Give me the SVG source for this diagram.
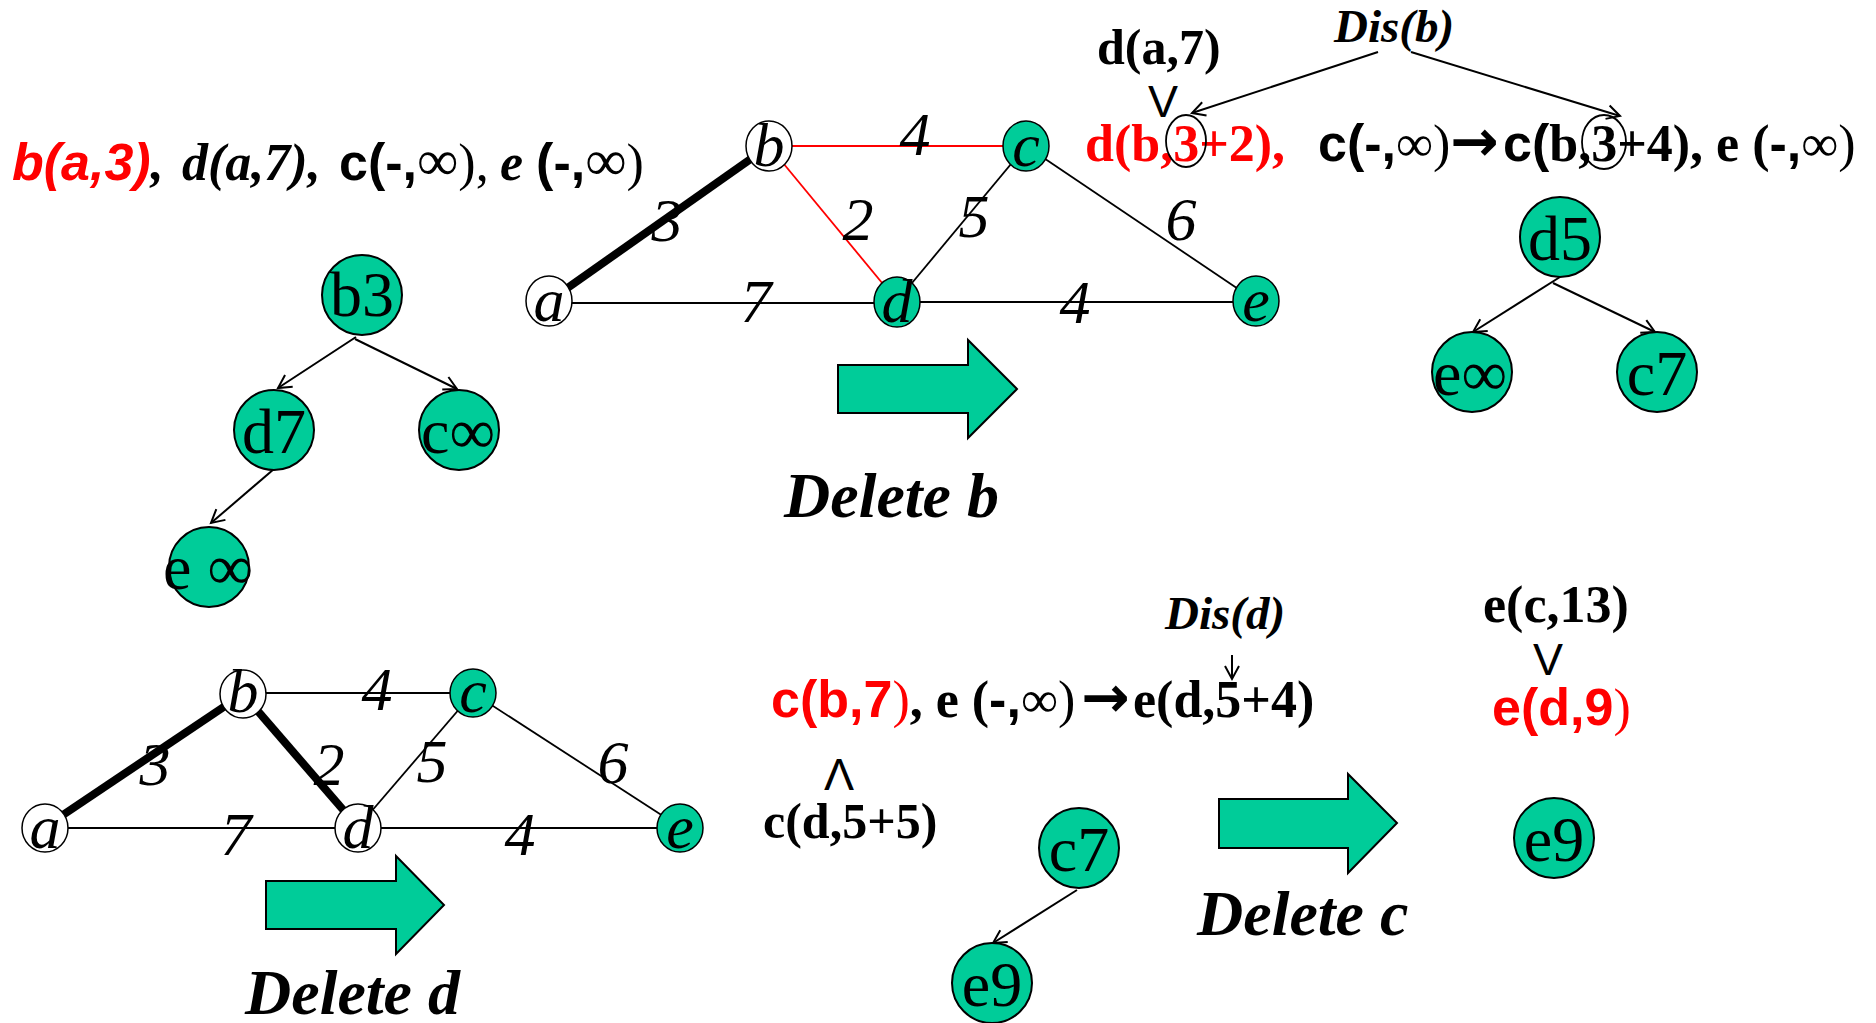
<svg xmlns="http://www.w3.org/2000/svg" width="1876" height="1023" viewBox="0 0 1876 1023">
<style>
.bg{fill:#fff}
.ng{fill:#00CC99;stroke:#000;stroke-width:1.5}
.nw{fill:#fff;stroke:#000;stroke-width:1.5}
.e{stroke:#000;stroke-width:1.8;fill:none}
.thick{stroke:#000;stroke-width:8}
.red{stroke:#f00;stroke-width:1.8}
.nl{font-family:"Liberation Serif","Times New Roman",serif;font-style:italic;font-size:62px;text-anchor:middle}
.lbl{font-family:"Liberation Serif","Times New Roman",serif;font-style:italic;font-size:62px;text-anchor:middle}
.tc{fill:#00CC99;stroke:#000;stroke-width:2}
.tt{font-family:"Liberation Serif","Times New Roman",serif;font-size:64px;text-anchor:middle}
.arr{stroke:#000;stroke-width:2;fill:none}
.blk{fill:#00CC99;stroke:#000;stroke-width:2}
.del{font-family:"Liberation Serif","Times New Roman",serif;font-style:italic;font-weight:bold;font-size:64px}
.s{font-family:"Liberation Sans",Arial,sans-serif;font-weight:bold}
.sr{font-family:"Liberation Sans",Arial,sans-serif;font-weight:normal}
.t{font-family:"Liberation Serif","Times New Roman",serif}
.tb{font-family:"Liberation Serif","Times New Roman",serif;font-weight:bold}
.ar{font-family:"DejaVu Sans",sans-serif;font-weight:bold}
.i{font-style:italic}
.rd{fill:#f00}
.ring{fill:none;stroke:#000;stroke-width:1.8}
</style>
<defs>
<marker id="oa" viewBox="-16 -10 20 20" refX="0" refY="0" markerWidth="20" markerHeight="20" markerUnits="userSpaceOnUse" orient="auto">
<path d="M-13,-7 L0,0 L-13,7" fill="none" stroke="#000" stroke-width="2"/>
</marker>
</defs>
<rect class="bg" x="0" y="0" width="1876" height="1023"/>

<!-- top-left list -->
<g id="list1" font-size="52">
<text y="180"><tspan x="12" class="s i rd">b(a,3)</tspan><tspan class="tb i">, </tspan><tspan x="182" class="tb i">d(a,7), </tspan><tspan x="339" class="s">c(-,</tspan><tspan class="t" font-size="58">∞</tspan><tspan class="t">), </tspan><tspan x="500" class="tb i">e </tspan><tspan class="s">(-,</tspan><tspan class="t" font-size="58">∞</tspan><tspan class="t">)</tspan></text>
</g>

<!-- connectors -->
<g id="connectors">
<!-- graph 1 -->
<line class="thick" x1="549" y1="301" x2="769" y2="146"/>
<line class="red" x1="769" y1="146" x2="1026" y2="146"/>
<line class="red" x1="769" y1="146" x2="897" y2="301"/>
<line class="e" x1="1026" y1="146" x2="897" y2="301"/>
<line class="e" x1="1026" y1="146" x2="1256" y2="301"/>
<line class="e" x1="549" y1="303" x2="897" y2="303"/>
<line class="e" x1="897" y1="302" x2="1256" y2="302"/>
<!-- graph 2 -->
<line class="thick" x1="45" y1="827" x2="243" y2="694"/>
<line class="thick" x1="243" y1="694" x2="358" y2="827"/>
<line class="e" x1="243" y1="693" x2="473" y2="693"/>
<line class="e" x1="473" y1="693" x2="358" y2="827"/>
<line class="e" x1="473" y1="693" x2="680" y2="827"/>
<line class="e" x1="45" y1="828" x2="358" y2="828"/>
<line class="e" x1="358" y1="828" x2="680" y2="828"/>
<!-- tree 1 -->
<line class="arr" x1="356" y1="337" x2="278" y2="388" marker-end="url(#oa)"/>
<line class="arr" x1="355" y1="339" x2="457" y2="389" marker-end="url(#oa)"/>
<line class="arr" x1="274" y1="469" x2="211" y2="523" marker-end="url(#oa)"/>
<!-- tree 2 -->
<line class="arr" x1="1560" y1="277" x2="1473" y2="332" marker-end="url(#oa)"/>
<line class="arr" x1="1553" y1="283" x2="1655" y2="332" marker-end="url(#oa)"/>
<!-- tree 3 -->
<line class="arr" x1="1077" y1="890" x2="993" y2="943" marker-end="url(#oa)"/>
<!-- Dis arrows -->
<line class="arr" x1="1378" y1="52" x2="1192" y2="113" marker-end="url(#oa)"/>
<line class="arr" x1="1411" y1="52" x2="1620" y2="116" marker-end="url(#oa)"/>
<line class="arr" x1="1232" y1="655" x2="1232" y2="679" marker-end="url(#oa)"/>
</g>

<!-- graph 1 nodes -->
<g id="g1-a"><ellipse class="nw" cx="549" cy="301" rx="23" ry="25"/><text class="nl" x="549" y="321">a</text></g>
<g id="g1-b"><ellipse class="nw" cx="769" cy="146" rx="23" ry="25"/><text class="nl" x="769" y="166">b</text></g>
<g id="g1-c"><ellipse class="ng" cx="1026" cy="146" rx="23" ry="25"/><text class="nl" x="1026" y="166">c</text></g>
<g id="g1-d"><ellipse class="ng" cx="897" cy="302" rx="23" ry="25"/><text class="nl" x="897" y="322">d</text></g>
<g id="g1-e"><ellipse class="ng" cx="1256" cy="301" rx="23" ry="25"/><text class="nl" x="1256" y="321">e</text></g>
<g id="g1-labels">
<text class="lbl" x="915" y="155">4</text>
<text class="lbl" x="667" y="241">3</text>
<text class="lbl" x="858" y="240">2</text>
<text class="lbl" x="974" y="237">5</text>
<text class="lbl" x="1181" y="240">6</text>
<text class="lbl" x="756" y="322">7</text>
<text class="lbl" x="1075" y="323">4</text>
</g>

<!-- graph 2 nodes -->
<g id="g2-a"><ellipse class="nw" cx="45" cy="828" rx="23" ry="24"/><text class="nl" x="45" y="848">a</text></g>
<g id="g2-b"><ellipse class="nw" cx="243" cy="694" rx="23" ry="24"/><text class="nl" x="243" y="712">b</text></g>
<g id="g2-c"><ellipse class="ng" cx="473" cy="693" rx="23" ry="24"/><text class="nl" x="473" y="712">c</text></g>
<g id="g2-d"><ellipse class="nw" cx="358" cy="828" rx="23" ry="24"/><text class="nl" x="358" y="848">d</text></g>
<g id="g2-e"><ellipse class="ng" cx="680" cy="828" rx="23" ry="24"/><text class="nl" x="680" y="848">e</text></g>
<g id="g2-labels">
<text class="lbl" x="377" y="710">4</text>
<text class="lbl" x="155" y="785">3</text>
<text class="lbl" x="329" y="785">2</text>
<text class="lbl" x="432" y="782">5</text>
<text class="lbl" x="613" y="783">6</text>
<text class="lbl" x="236" y="855">7</text>
<text class="lbl" x="520" y="855">4</text>
</g>

<!-- tree 1 -->
<g id="t1-b3"><circle class="tc" cx="362" cy="295" r="40"/><text class="tt" x="362" y="316">b3</text></g>
<g id="t1-d7"><circle class="tc" cx="274" cy="430" r="40"/><text class="tt" x="274" y="453">d7</text></g>
<g id="t1-cinf"><circle class="tc" cx="459" cy="430" r="40"/><text class="tt" x="458" y="453">c∞</text></g>
<g id="t1-einf"><circle class="tc" cx="209" cy="567" r="40"/><text class="tt" x="208" y="589">e ∞</text></g>

<!-- tree 2 -->
<g id="t2-d5"><circle class="tc" cx="1560" cy="237" r="40"/><text class="tt" x="1560" y="260">d5</text></g>
<g id="t2-einf"><circle class="tc" cx="1472" cy="372" r="40"/><text class="tt" x="1470" y="395">e∞</text></g>
<g id="t2-c7"><circle class="tc" cx="1657" cy="372" r="40"/><text class="tt" x="1657" y="395">c7</text></g>

<!-- tree 3 -->
<g id="t3-c7"><circle class="tc" cx="1079" cy="848" r="40"/><text class="tt" x="1079" y="871">c7</text></g>
<g id="t3-e9"><circle class="tc" cx="992" cy="983" r="40"/><text class="tt" x="992" y="1006">e9</text></g>
<g id="t4-e9"><circle class="tc" cx="1554" cy="838" r="40"/><text class="tt" x="1554" y="861">e9</text></g>

<!-- block arrows -->
<g id="arrow-b"><path class="blk" d="M838,365 H968 V340 L1017,389 L968,438 V413 H838 Z"/><text class="del" x="784" y="517">Delete b</text></g>
<g id="arrow-d"><path class="blk" d="M266,881 H396 V856 L444,905 L396,954 V929 H266 Z"/><text class="del" x="245" y="1014">Delete d</text></g>
<g id="arrow-c"><path class="blk" d="M1219,799 H1348 V774 L1397,823 L1348,873 V848 H1219 Z"/><text class="del" x="1197" y="935">Delete c</text></g>

<!-- top right texts -->
<g id="step1" font-size="52">
<text class="tb i" x="1334" y="42" font-size="47">Dis(b)</text>
<text class="tb" x="1097" y="64" font-size="50">d(a,7)</text>
<text class="sr" x="1163" y="117" font-size="45" text-anchor="middle">V</text>
<text x="1085" y="161" class="tb rd">d(b,3+2),</text>
<ellipse class="ring" cx="1186" cy="141" rx="20" ry="26"/>
<text y="161"><tspan x="1318" class="s">c(-,</tspan><tspan class="t">∞)</tspan><tspan x="1450" class="ar" font-size="58">→</tspan><tspan x="1503" class="s">c(</tspan><tspan class="tb">b,3+4), e (</tspan><tspan class="s">-,</tspan><tspan class="t">∞)</tspan></text>
<ellipse class="ring" cx="1604" cy="142" rx="22" ry="27"/>
</g>

<!-- bottom texts -->
<g id="step2" font-size="52">
<text class="tb i" x="1165" y="629" font-size="47">Dis(d)</text>
<text y="717"><tspan x="771" class="s rd">c(b,7</tspan><tspan class="t rd">)</tspan><tspan class="tb">, e (</tspan><tspan class="s">-,</tspan><tspan class="t">∞)</tspan><tspan x="1081" class="ar" font-size="58">→</tspan><tspan x="1133" class="tb">e(d,5+4)</tspan></text>
<text class="sr" x="839" y="790" font-size="45" text-anchor="middle">Λ</text>
<text class="tb" x="763" y="838" font-size="50">c(d,5+5)</text>
</g>
<g id="step3" font-size="52">
<text class="tb" x="1483" y="622">e(c,13)</text>
<text class="sr" x="1548" y="675" font-size="45" text-anchor="middle">V</text>
<text y="725"><tspan x="1492" class="s rd">e(d,9</tspan><tspan class="t rd">)</tspan></text>
</g>
</svg>
